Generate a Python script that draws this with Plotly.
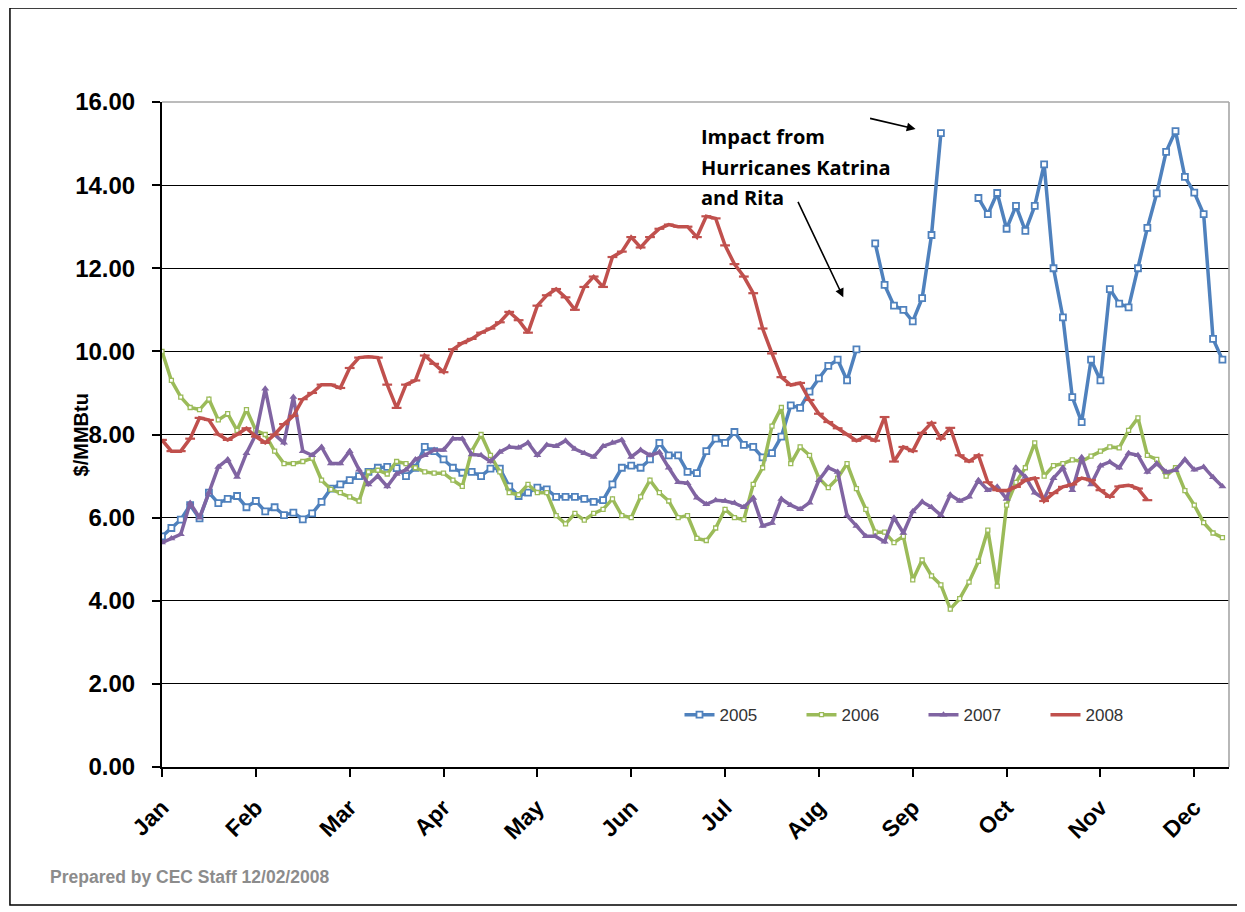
import plotly.graph_objects as go

# ---------------- data ----------------
months = ["Jan", "Feb", "Mar", "Apr", "May", "Jun",
          "Jul", "Aug", "Sep", "Oct", "Nov", "Dec"]
sample_step = 0.1  # samples every tenth of a month

y2005 = [5.55, 5.75, 5.95, 6.3, 5.98, 6.6, 6.35, 6.45, 6.52, 6.25,
         6.4, 6.15, 6.25, 6.06, 6.12, 5.96, 6.1, 6.38, 6.7, 6.8,
         6.9, 7.0, 7.1, 7.2, 7.22, 7.19, 7.0, 7.2, 7.7, 7.6,
         7.4, 7.2, 7.08, 7.1, 7.0, 7.18, 7.18, 6.75, 6.52, 6.6,
         6.72, 6.68, 6.5, 6.5, 6.5, 6.45, 6.38, 6.42, 6.8, 7.2,
         7.25, 7.2, 7.4, 7.8, 7.5, 7.5, 7.1, 7.07, 7.6, 7.9,
         7.8, 8.06, 7.75, 7.7, 7.45, 7.55, 7.95, 8.7, 8.64, 9.03,
         9.35, 9.65, 9.8, 9.3, 10.05, None, 12.6, 11.6, 11.1, 11.0,
         10.72, 11.28, 12.8, 15.25, None, None, None, 13.69, 13.3, 13.81,
         12.95, 13.5, 12.9, 13.5, 14.5, 12.0, 10.82, 8.9, 8.3, 9.8,
         9.3, 11.5, 11.15, 11.06, 12.0, 12.97, 13.8, 14.8, 15.3, 14.2,
         13.82, 13.3, 10.3, 9.8]

y2006 = [10.0, 9.3, 8.9, 8.65, 8.6, 8.85, 8.35, 8.5, 8.1, 8.6,
         8.1, 8.0, 7.6, 7.3, 7.3, 7.35, 7.43, 6.9, 6.68, 6.6,
         6.5, 6.4, 7.1, 7.14, 7.05, 7.35, 7.3, 7.2, 7.1, 7.07,
         7.07, 6.9, 6.75, 7.6, 8.0, 7.5, 7.1, 6.6, 6.55, 6.8,
         6.6, 6.6, 6.05, 5.85, 6.1, 5.94, 6.1, 6.2, 6.45, 6.05,
         6.0, 6.5, 6.9, 6.6, 6.4, 6.0, 6.05, 5.5, 5.45, 5.75,
         6.2, 6.0, 5.95, 6.8, 7.2, 8.2, 8.65, 7.3, 7.7, 7.5,
         6.95, 6.72, 6.95, 7.3, 6.7, 6.2, 5.65, 5.65, 5.4, 5.55,
         4.5, 4.98, 4.6, 4.38, 3.8, 4.05, 4.45, 4.95, 5.7, 4.35,
         6.3, 6.85, 7.2, 7.8, 7.0, 7.25, 7.3, 7.39, 7.35, 7.48,
         7.6, 7.7, 7.68, 8.1, 8.4, 7.5, 7.4, 7.0, 7.2, 6.65,
         6.3, 5.88, 5.63, 5.52]

y2007 = [5.4, 5.5, 5.6, 6.35, 6.0, 6.6, 7.22, 7.4, 6.98, 7.55,
         8.0, 9.1, 8.0, 7.8, 8.9, 7.6, 7.5, 7.7, 7.3, 7.3,
         7.6, 7.15, 6.8, 7.0, 6.75, 7.05, 7.15, 7.4, 7.5, 7.63,
         7.63, 7.9, 7.9, 7.52, 7.5, 7.35, 7.58, 7.7, 7.68, 7.8,
         7.5, 7.75, 7.72, 7.85, 7.65, 7.55, 7.46, 7.72, 7.8, 7.87,
         7.46, 7.63, 7.5, 7.57, 7.2, 6.85, 6.83, 6.48, 6.32, 6.42,
         6.4, 6.35, 6.25, 6.47, 5.8, 5.87, 6.45, 6.3, 6.2, 6.36,
         6.9, 7.2, 7.1, 6.05, 5.8, 5.55, 5.55, 5.42, 6.0, 5.63,
         6.15, 6.38, 6.25, 6.06, 6.55, 6.4, 6.5, 6.9, 6.66, 6.74,
         6.45, 7.2, 6.98, 6.6, 6.45, 6.95, 7.2, 6.66, 7.45, 6.8,
         7.25, 7.34, 7.2, 7.55, 7.5, 7.1, 7.3, 7.1, 7.14, 7.4,
         7.15, 7.22, 6.97, 6.75]

y2008 = [7.87, 7.6, 7.6, 7.9, 8.4, 8.35, 8.0, 7.87, 8.0, 8.15,
         7.95, 7.8, 8.0, 8.25, 8.45, 8.85, 9.0, 9.2, 9.2, 9.12,
         9.6, 9.85, 9.87, 9.85, 9.2, 8.64, 9.2, 9.3, 9.9, 9.7,
         9.5, 10.05, 10.2, 10.3, 10.45, 10.55, 10.7, 10.95, 10.75, 10.45,
         11.1, 11.35, 11.5, 11.3, 11.0, 11.55, 11.8, 11.55, 12.27, 12.4,
         12.75, 12.5, 12.75, 12.95, 13.05, 13.0, 13.0, 12.75, 13.25, 13.2,
         12.55, 12.1, 11.8, 11.4, 10.55, 9.95, 9.38, 9.19, 9.24, 8.83,
         8.5, 8.3, 8.15, 8.0, 7.85, 7.95, 7.85, 8.42, 7.35, 7.7,
         7.6, 8.04, 8.28, 7.9, 8.16, 7.5, 7.35, 7.5, 6.85, 6.66,
         6.65, 6.74, 6.9, 6.95, 6.4, 6.59, 6.74, 6.8, 6.95, 6.9,
         6.66, 6.5, 6.75, 6.78, 6.7, 6.42]

y_ticks = [0, 2, 4, 6, 8, 10, 12, 14, 16]

# ---------------- figure ----------------
def xs(vals):
    return [round(i * sample_step, 3) for i in range(len(vals))]

BLUE, GREEN, PURPLE, RED = "#4F81BD", "#9BBB59", "#8064A2", "#C0504D"

fig = go.Figure()
fig.add_trace(go.Scatter(
    x=xs(y2005), y=y2005, name="2005", mode="lines+markers",
    line=dict(color=BLUE, width=3.5), connectgaps=False,
    marker=dict(symbol="square", size=6, color="white",
                line=dict(color=BLUE, width=1.8))))
fig.add_trace(go.Scatter(
    x=xs(y2006), y=y2006, name="2006", mode="lines+markers",
    line=dict(color=GREEN, width=3.5),
    marker=dict(symbol="square", size=4, color="white",
                line=dict(color=GREEN, width=1.3))))
fig.add_trace(go.Scatter(
    x=xs(y2007), y=y2007, name="2007", mode="lines+markers",
    line=dict(color=PURPLE, width=3.5),
    marker=dict(symbol="triangle-up", size=7, color=PURPLE)))
fig.add_trace(go.Scatter(
    x=xs(y2008), y=y2008, name="2008", mode="lines+markers",
    line=dict(color=RED, width=3.5),
    marker=dict(symbol="line-ew", size=7, color=RED,
                line=dict(color=RED, width=2.2))))

FONT = "Liberation Sans, Arial, sans-serif"

fig.update_layout(
    width=1237, height=904, autosize=False,
    margin=dict(l=154, r=16, t=94, b=145, autoexpand=False),
    paper_bgcolor="white", plot_bgcolor="white",
    font=dict(family=FONT, color="black"),
    showlegend=True,
    legend=dict(orientation="h", x=0.485, y=0.078, xanchor="left",
                yanchor="middle", bgcolor="rgba(0,0,0,0)",
                font=dict(family=FONT, size=17, color="#333333"),
                entrywidth=77, entrywidthmode="pixels"),
    xaxis=dict(range=[0, 11.37], tickmode="array",
               tickvals=list(range(12)), ticktext=months,
               tickangle=-45, showgrid=False, zeroline=False,
               showline=True, linecolor="black", linewidth=2,
               ticks="outside", ticklen=8, tickcolor="black", tickwidth=1.5,
               ticklabelstandoff=8,
               tickfont=dict(family=FONT, size=23, color="black",
                             weight="bold")),
    yaxis=dict(range=[0, 16], tickmode="array", tickvals=y_ticks,
               tickformat=".2f", showgrid=True, gridcolor="black",
               gridwidth=1.4, zeroline=False,
               showline=True, linecolor="black", linewidth=2,
               ticks="outside", ticklen=8, tickcolor="black", tickwidth=1.5,
               ticklabelstandoff=12,
               tickfont=dict(family=FONT, size=24, color="black",
                             weight="bold")),
)

# plot-area border (grey top / right)
fig.add_shape(type="line", xref="paper", yref="paper", x0=0, x1=1, y0=1, y1=1,
              line=dict(color="#A6A6A6", width=1.6), layer="above")
fig.add_shape(type="line", xref="paper", yref="paper", x0=1, x1=1, y0=0, y1=1,
              line=dict(color="#A6A6A6", width=1.6), layer="above")
# outer chart frame
fig.add_shape(type="rect", xref="paper", yref="paper",
              x0=-0.1425, x1=1.0103, y0=-0.2075, y1=1.1414,
              line=dict(color="black", width=1.5), layer="below")

# y axis title
fig.add_annotation(text="<b>$/MMBtu</b>", xref="paper", yref="paper",
                   x=-0.076, y=0.5, xanchor="center", yanchor="middle",
                   textangle=-90, showarrow=False,
                   font=dict(family=FONT, size=20, color="black"))

# hurricane annotation text
ann_font = dict(family="Open Sans, sans-serif", size=20, color="black")
for line_text, yy in [("Impact from", 15.17), ("Hurricanes Katrina", 14.42),
                      ("and Rita", 13.7)]:
    fig.add_annotation(text="<b>" + line_text + "</b>", x=5.72, y=yy,
                       xref="x", yref="y", xanchor="left", yanchor="middle",
                       showarrow=False, font=ann_font)

# arrows
fig.add_annotation(x=8.03, y=15.35, xref="x", yref="y", ax=-47, ay=-11,
                   text="", showarrow=True, arrowhead=2, arrowsize=1.1,
                   arrowwidth=1.6, arrowcolor="black")
fig.add_annotation(x=7.26, y=11.3, xref="x", yref="y", ax=-46, ay=-97,
                   text="", showarrow=True, arrowhead=2, arrowsize=1.1,
                   arrowwidth=1.6, arrowcolor="black")

# footer
fig.add_annotation(text="<b>Prepared by CEC Staff 12/02/2008</b>",
                   xref="paper", yref="paper", x=-0.1068, y=-0.165,
                   xanchor="left", yanchor="middle", showarrow=False,
                   font=dict(family=FONT, size=17.5, color="#8C8C8C"))

fig.write_html("out.html")
